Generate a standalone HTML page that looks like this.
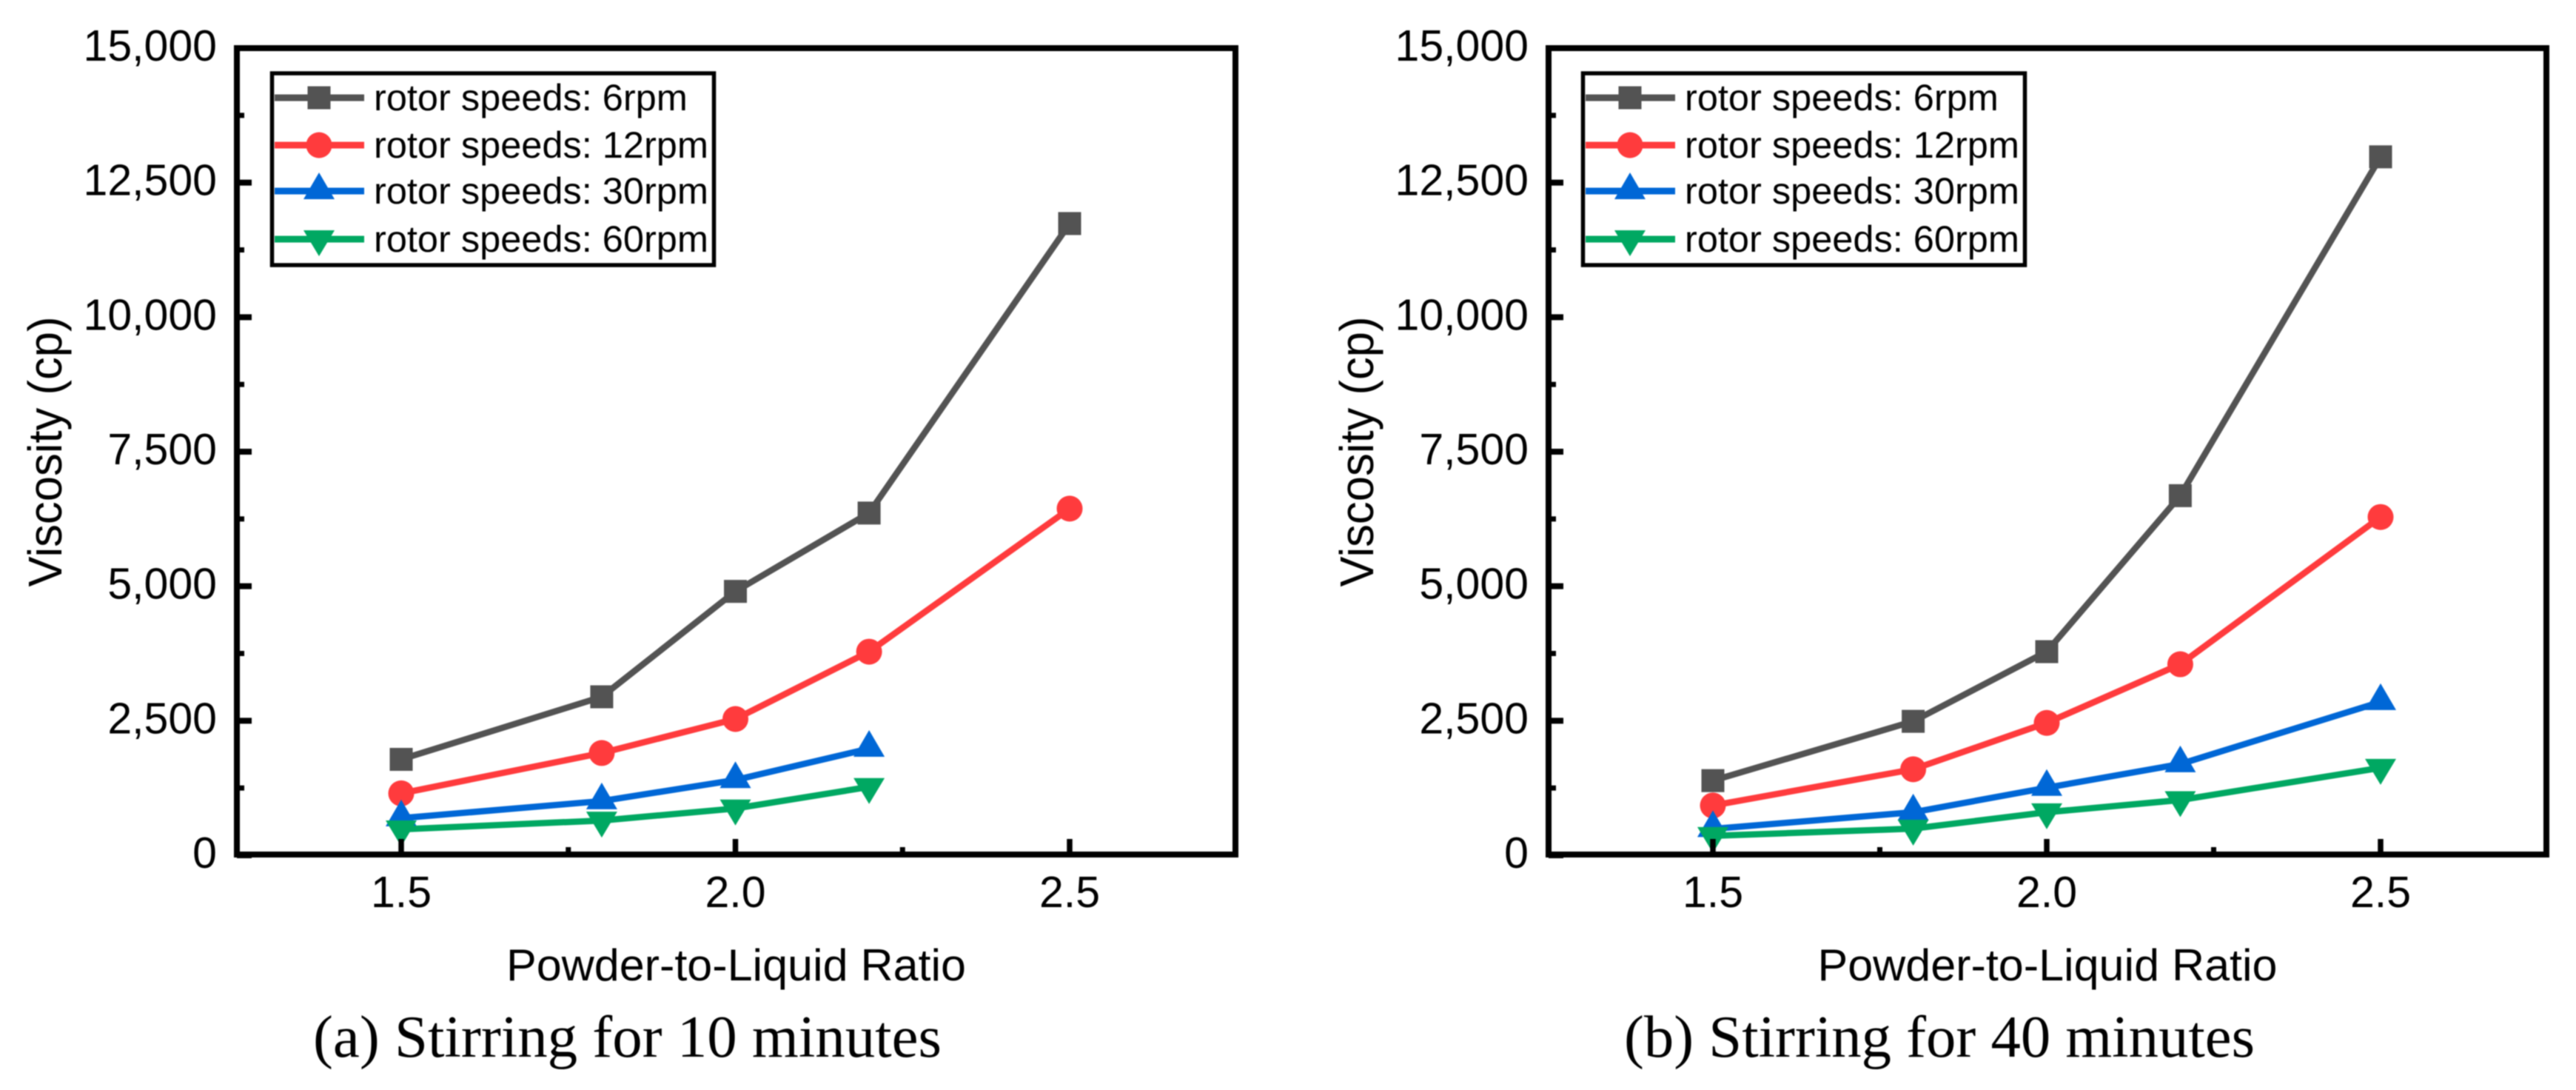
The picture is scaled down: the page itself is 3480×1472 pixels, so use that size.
<!DOCTYPE html>
<html lang="en">
<head>
<meta charset="utf-8">
<title>Viscosity vs Powder-to-Liquid Ratio</title>
<style>
html,body{margin:0;padding:0;background:#fff;width:3480px;height:1472px;overflow:hidden}
svg{display:block;filter:blur(0.7px)}
text{font-family:"Liberation Sans",Arial,sans-serif;fill:#000}
text.caption{font-family:"Liberation Serif",serif}
</style>
</head>
<body>
<svg id="figure" xmlns="http://www.w3.org/2000/svg" width="3480" height="1472" viewBox="0 0 3480 1472">
<rect x="0" y="0" width="3480" height="1472" fill="#fff"/>
</svg>
<script>
// Shared categories and axis labels
var xCategories = [1.5, 1.8, 2.0, 2.2, 2.5];
var xMajorTicks = [1.5, 2.0, 2.5];
var xMinorTicks = [1.75, 2.25];
var xTickLabels = ["1.5", "2.0", "2.5"];
var yMajorTicks = [0, 2500, 5000, 7500, 10000, 12500, 15000];
var yMinorTicks = [1250, 3750, 6250, 8750, 11250, 13750];
var yTickLabels = ["0", "2,500", "5,000", "7,500", "10,000", "12,500", "15,000"];
var seriesNames = ["rotor speeds: 6rpm", "rotor speeds: 12rpm", "rotor speeds: 30rpm", "rotor speeds: 60rpm"];

// Panel (a): stirring for 10 minutes
var a6rpm  = [1782, 2945, 4904, 6360, 11740];
var a12rpm = [1150, 1900, 2532, 3783, 6442];
var a30rpm = [690, 1007, 1400, 1982, null];
var a60rpm = [481, 645, 870, 1270, null];

// Panel (b): stirring for 40 minutes
var b6rpm  = [1387, 2489, 3784, 6683, 12980];
var b12rpm = [925, 1598, 2460, 3550, 6286];
var b30rpm = [490, 800, 1255, 1695, 2850];
var b60rpm = [360, 495, 800, 1026, 1625];

var NS = "http://www.w3.org/2000/svg";
var svg = document.getElementById("figure");
var COLORS = ["#535353", "#ff3b3d", "#0067d6", "#00a862"];
var SHAPES = ["square", "circle", "up", "down"];
var SHAPE_NAMES = ["6rpm", "12rpm", "30rpm", "60rpm"];

function mk(tag, attrs, parent) {
  var el = document.createElementNS(NS, tag);
  for (var k in attrs) el.setAttribute(k, attrs[k]);
  (parent || svg).appendChild(el);
  return el;
}

function drawMarker(group, shape, x, y, color) {
  var m;
  if (shape === "square") {
    m = mk("rect", {x: x - 15.5, y: y - 15.5, width: 31, height: 31, fill: color}, group);
  } else if (shape === "circle") {
    m = mk("circle", {cx: x, cy: y, r: 17.5, fill: color}, group);
  } else if (shape === "up") {
    m = mk("polygon", {points: (x - 21) + "," + (y + 11) + " " + (x + 21) + "," + (y + 11) + " " + x + "," + (y - 25), fill: color}, group);
  } else {
    m = mk("polygon", {points: (x - 21) + "," + (y - 12) + " " + (x + 21) + "," + (y - 12) + " " + x + "," + (y + 23), fill: color}, group);
  }
  
  
}

function drawPanel(id, left, right, xAtTwo, xUnit, legendBox, tickLabelRight, yTitleX, capX, capLen, caption, series) {
  var top = 65, bottom = 1155, frameBottom = 1154;
  var xScale = function (v) { return xAtTwo + (v - 2) * xUnit; };
  var yScale = function (v) { return bottom - v / 15000 * (bottom - top); };

  var g = mk("g", {});
  
  

  // series first, axes on top
  series.forEach(function (values, s) {
    var sg = mk("g", {}, g);
    
    
    var pts = [];
    values.forEach(function (v, i) {
      if (v !== null) pts.push(xScale(xCategories[i]).toFixed(1) + "," + yScale(v).toFixed(1));
    });
    var line = mk("polyline", {points: pts.join(" "), fill: "none", stroke: COLORS[s], "stroke-width": 8.5, "stroke-linejoin": "miter"}, sg);
    
    
    values.forEach(function (v, i) {
      if (v !== null) drawMarker(sg, SHAPES[s], xScale(xCategories[i]), yScale(v), COLORS[s]);
    });
  });

  // frame
  var frame = mk("rect", {x: left, y: top, width: right - left, height: frameBottom - top, fill: "none", stroke: "#000", "stroke-width": 8}, g);
  
  

  // x ticks
  xMajorTicks.forEach(function (v, i) {
    var t = mk("line", {x1: xScale(v), x2: xScale(v), y1: frameBottom, y2: 1133, stroke: "#000", "stroke-width": 7.5}, g);
    
    
    var l = mk("text", {x: xScale(v), y: 1225, "text-anchor": "middle", "font-size": 59}, g);
    l.textContent = xTickLabels[i];
    
    
  });
  xMinorTicks.forEach(function (v) {
    var t = mk("line", {x1: xScale(v), x2: xScale(v), y1: frameBottom, y2: 1144, stroke: "#000", "stroke-width": 7}, g);
    
    
  });

  // y ticks
  yMajorTicks.forEach(function (v, i) {
    var t = mk("line", {x1: left, x2: left + 20, y1: yScale(v), y2: yScale(v), stroke: "#000", "stroke-width": 8}, g);
    
    
    var l = mk("text", {x: tickLabelRight, y: yScale(v) + 17, "text-anchor": "end", "font-size": 59}, g);
    l.textContent = yTickLabels[i];
    
    
  });
  yMinorTicks.forEach(function (v) {
    var t = mk("line", {x1: left, x2: left + 10, y1: yScale(v), y2: yScale(v), stroke: "#000", "stroke-width": 7}, g);
    
    
  });

  // axis titles
  var xt = mk("text", {x: (left + right) / 2, y: 1324, "text-anchor": "middle", "font-size": 60, textLength: 621, lengthAdjust: "spacingAndGlyphs"}, g);
  xt.textContent = "Powder-to-Liquid Ratio";
  
  

  var yt = mk("text", {x: 0, y: 0, "text-anchor": "middle", "font-size": 64, textLength: 365, lengthAdjust: "spacingAndGlyphs", transform: "translate(" + yTitleX + ",610) rotate(-90)"}, g);
  yt.textContent = "Viscosity (cp)";
  
  

  // legend
  var lg = mk("g", {}, g);
  
  
  var box = mk("rect", {x: legendBox + 2.5, y: 99, width: 597, height: 259, fill: "#fff", stroke: "#000", "stroke-width": 5.5}, lg);
  
  
  var rowY = [132, 196, 258, 323];
  seriesNames.forEach(function (name, s) {
    var row = mk("g", {}, lg);
    
    
    var ln = mk("line", {x1: legendBox + 6, x2: legendBox + 127, y1: rowY[s], y2: rowY[s], stroke: COLORS[s], "stroke-width": 9}, row);
    
    
    drawMarker(row, SHAPES[s], legendBox + 66, rowY[s], COLORS[s]);
    var tx = mk("text", {x: legendBox + 140, y: rowY[s] + 17, "font-size": 50.5}, row);
    tx.textContent = name;
    
    
  });

  // caption
  var cp = mk("text", {"class": "caption", x: capX, y: 1427, "font-size": 81, textLength: capLen, lengthAdjust: "spacingAndGlyphs"}, g);
  cp.textContent = caption;
  
  
}

drawPanel("a", 320, 1669, 993.5, 903, 365, 293, 83, 423, 849, "(a) Stirring for 10 minutes", [a6rpm, a12rpm, a30rpm, a60rpm]);
drawPanel("b", 2092, 3440, 2765, 902, 2136, 2065, 1855, 2194, 852, "(b) Stirring for 40 minutes", [b6rpm, b12rpm, b30rpm, b60rpm]);
</script>
</body>
</html>
